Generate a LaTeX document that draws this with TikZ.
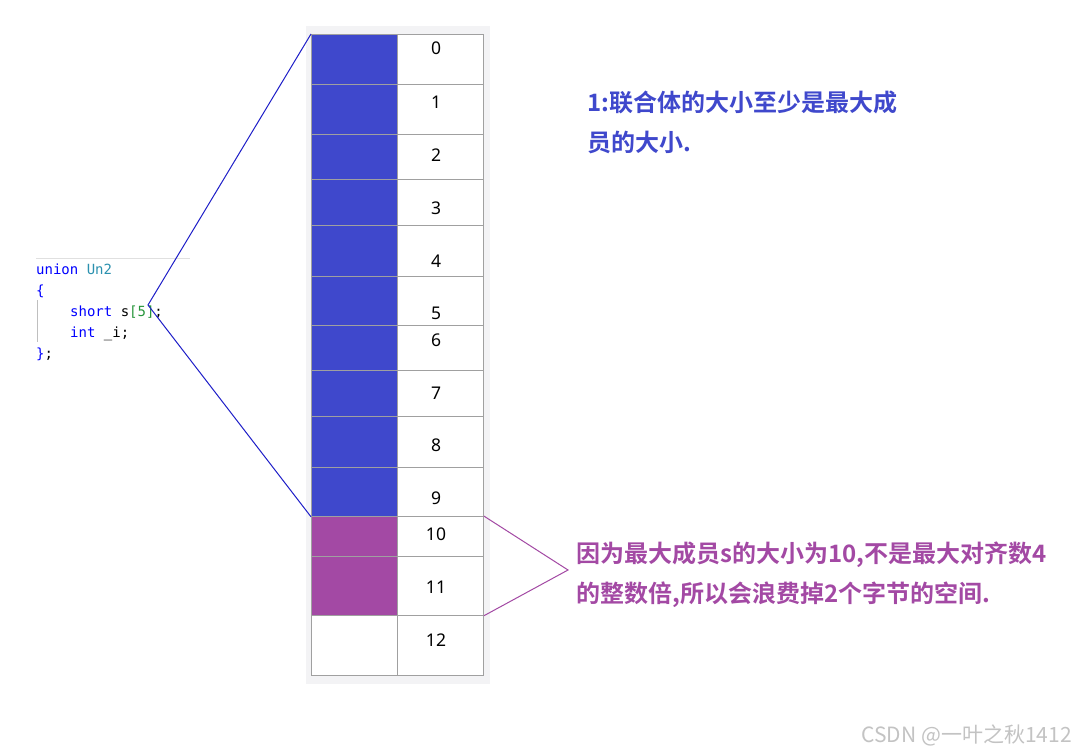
\documentclass[tikz,border=0pt]{standalone}
\usepackage{fontspec}
\setmainfont{Noto Sans}
\newfontfamily\cjkb[BoldFont={Noto Sans CJK SC Bold}]{Noto Sans CJK SC}
\newfontfamily\codefont{DejaVu Sans Mono}
\definecolor{cellblue}{RGB}{63,72,204}
\definecolor{cellpurple}{RGB}{163,73,164}
\definecolor{gridgray}{RGB}{160,160,160}
\definecolor{panelgray}{RGB}{243,243,245}
\definecolor{linkblue}{RGB}{30,30,200}
\definecolor{kwblue}{RGB}{0,0,255}
\definecolor{typeteal}{RGB}{43,145,175}
\definecolor{brgreen}{RGB}{40,150,60}
\definecolor{wmgray}{RGB}{195,195,195}
\tikzset{
  cell/.style={draw=gridgray, line width=0.8pt, minimum width=86, inner sep=0pt, anchor=north west},
  num/.style={font=\fontsize{17.5}{20}\selectfont, text=black, inner sep=0pt},
  code/.style={font=\codefont\fontsize{14}{16}\selectfont, anchor=base west, inner sep=0pt},
  note/.style={font=\cjkb\bfseries\fontsize{24}{40}\selectfont, anchor=base west, align=left, inner sep=0pt},
}
\begin{document}
\begin{tikzpicture}[x=1pt,y=-1pt]
\useasboundingbox (0,0) rectangle (1076,752);
\fill[white] (0,0) rectangle (1076,752);
% panel
\node[fill=panelgray, minimum width=184, minimum height=658, anchor=north west, inner sep=0pt] (panel) at (306,26) {};
% cells
\foreach \i/\a/\b/\c in {0/34/84/cellblue,1/84/134/cellblue,2/134/179/cellblue,3/179/225/cellblue,4/225/276/cellblue,5/276/325/cellblue,6/325/370/cellblue,7/370/416/cellblue,8/416/467/cellblue,9/467/516/cellblue,10/516/556/cellpurple,11/556/615/cellpurple,12/615/675/white}{
  \node[cell, fill=\c, minimum height={\b-\a}] (L\i) at (311,\a) {};
  \node[cell, fill=white, minimum height={\b-\a}] (R\i) at (397,\a) {};
}
% numbers
\foreach \i/\y in {0/48,1/102,2/155,3/208,4/261,5/313,6/340,7/393,8/445,9/498,10/534,11/587,12/640}{
  \node[num] (n\i) at (436,\y) {\i};
}
% code
\draw[draw=black!12, line width=1pt] (36,258) -- (190,258);
\draw[draw=black!25, line width=0.8pt] (37,300) -- (37,342);
\node[code] (c1) at (36,274) {\textcolor{kwblue}{union} \textcolor{typeteal}{Un2}};
\node[code] (c2) at (36,295) {\textcolor{kwblue}{\{}};
\node[code] (c3) at (70,316) {\textcolor{kwblue}{short} s\textcolor{brgreen}{[5]};};
\node[code] (c4) at (70,337) {\textcolor{kwblue}{int} \_i;};
\node[code] (c5) at (36,358) {\textcolor{kwblue}{\}};};
% connectors
\coordinate (apexA) at (148,305);
\coordinate (apexB) at (568,570);
\draw[linkblue, line width=1pt] (L0.north west) -- (apexA) -- (L9.south west);
\draw[cellpurple, line width=1pt] (R10.north east) -- (apexB) -- (R11.south east);
% notes
\node[note, text=cellblue] (t1) at (587,151) {1:联合体的大小至少是最大成\\员的大小.};
\node[note, text=cellpurple] (t2) at (576,602) {因为最大成员s的大小为10,不是最大对齐数4\\的整数倍,所以会浪费掉2个字节的空间.};
% watermark
\node[font=\cjkb\fontsize{21}{23}\selectfont, text=wmgray, anchor=east, inner sep=0pt] (wm) at (1072,735) {CSDN @一叶之秋1412};
\end{tikzpicture}
\end{document}
